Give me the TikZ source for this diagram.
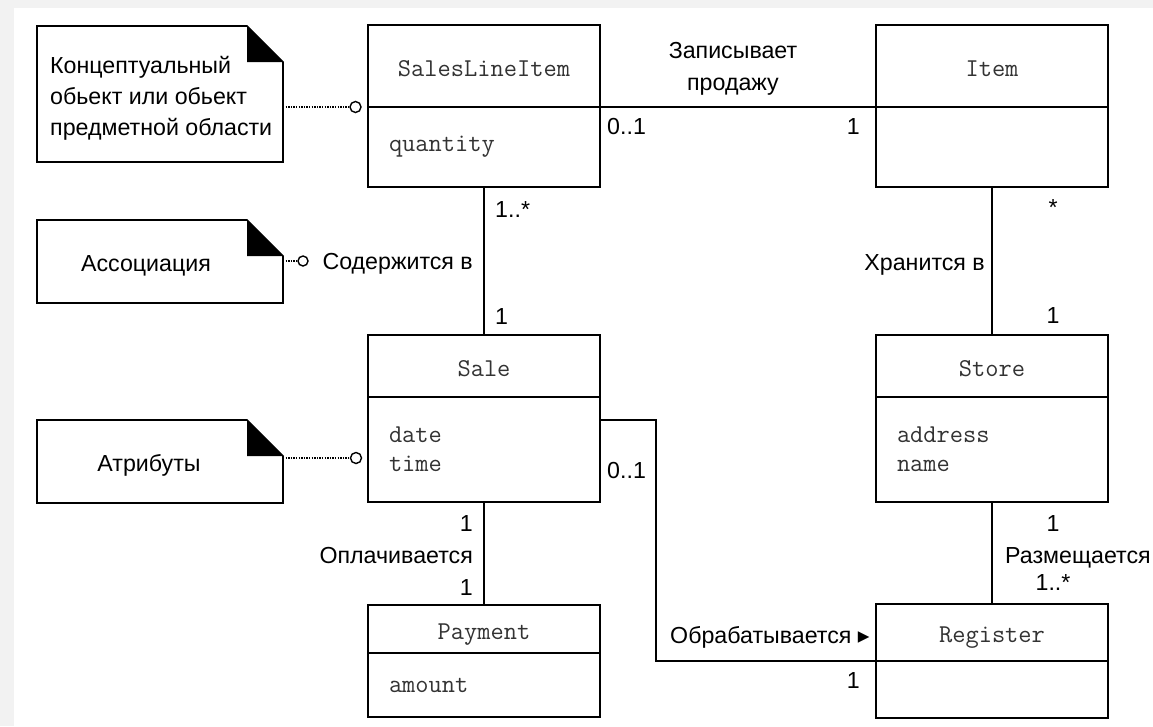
\documentclass[tikz,border=0pt]{standalone}
\usepackage{fontspec}
\setmainfont{Liberation Sans}
\newfontfamily\symbfont{DejaVu Sans}
\usetikzlibrary{positioning}
\tikzset{
	umlhead/.style={draw, line width=1.6pt, minimum width=232pt, inner sep=0pt, outer sep=0pt, font=\fontsize{25.7}{29}\ttfamily, text=black!80, text height=22pt, text depth=2pt},
	umlbody/.style={draw, line width=1.6pt, minimum width=232pt, text width=190pt, inner xsep=21pt, inner ysep=0pt, outer sep=0pt, align=left, font=\fontsize{25.7}{29}\ttfamily, text=black!80},
	note/.style={minimum width=246pt, inner sep=0pt, outer sep=0pt},
	txt/.style={inner sep=0pt, font=\fontsize{23.2}{31}\selectfont, text height=17pt, text depth=0pt},
	txtblock/.style={inner sep=0pt, font=\fontsize{23.2}{31}\selectfont},
	assoc/.style={line width=1.6pt},
	anchorline/.style={line width=1.6pt, dash pattern=on 1.3pt off 1.3pt},
	anchordot/.style={circle, draw, line width=1.4pt, inner sep=0pt, minimum size=11pt, fill=white}
}
\newcommand{\foldnote}[1]{%
	\draw[line width=1.6pt] (#1.north west) -- ([xshift=-36pt]#1.north east) -- ([yshift=-36pt]#1.north east) -- (#1.south east) -- (#1.south west) -- cycle;
	\fill ([xshift=-36pt]#1.north east) -- ([xshift=-36pt,yshift=-36pt]#1.north east) -- ([yshift=-36pt]#1.north east) -- cycle;}
\begin{document}
\begin{tikzpicture}[x=1pt, y=-1pt]
	\useasboundingbox (0,0) rectangle (1153,726);
	\fill[gray!10] (0,0) rectangle (1153,726);
	\fill[white] (14,8) rectangle (1153,726);
	
	\draw (484,66) node[umlhead, minimum height=82pt] (slihead) {SalesLineItem};
	\node[umlbody, minimum height=80pt, below=0pt of slihead] (slibody) {quantity};
	\draw (992,66) node[umlhead, minimum height=82pt] (itemhead) {Item};
	\node[umlbody, minimum height=80pt, below=0pt of itemhead] (itembody) {};
	\draw (484,366) node[umlhead, minimum height=62pt] (salehead) {Sale};
	\node[umlbody, minimum height=105pt, below=0pt of salehead] (salebody) {date\\time};
	\draw (992,366) node[umlhead, minimum height=62pt] (storehead) {Store};
	\node[umlbody, minimum height=105pt, below=0pt of storehead] (storebody) {address\\name};
	\draw (484,629) node[umlhead, minimum height=48pt] (payhead) {Payment};
	\node[umlbody, minimum height=64pt, below=0pt of payhead] (paybody) {amount};
	\draw (992,632.5) node[umlhead, minimum height=57pt] (reghead) {Register};
	\node[umlbody, minimum height=57pt, below=0pt of reghead] (regbody) {};
	
	\draw[assoc] (slihead.south east) -- (itemhead.south west);
	\draw[assoc] (slibody.south) -- (salehead.north);
	\draw[assoc] (itembody.south) -- (storehead.north);
	\draw[assoc] (salebody.south) -- (payhead.north);
	\draw[assoc] (storebody.south) -- (reghead.north);
	\draw[assoc] ([yshift=-23pt]salebody.north east) -- ++(56,0) |- (reghead.south west);
	
	\draw (160,94) node[note, minimum height=136pt] (conceptnote) {};
	\foldnote{conceptnote}
	\draw ([xshift=13pt,yshift=-4.4pt]conceptnote.west) node[txtblock, anchor=west, align=left] (concepttext) {Концептуальный\\обьект или обьект\\предметной области};
	\draw (160,261.5) node[note, minimum height=83pt] (assocnote) {};
	\foldnote{assocnote}
	\draw (146,263) node[txt] (assoctext) {Ассоциация};
	\draw (160,461.5) node[note, minimum height=83pt] (attrnote) {};
	\foldnote{attrnote}
	\draw (149,463) node[txt] (attrtext) {Атрибуты};
	
	\draw (355.5,107) node[anchordot] (conceptdot) {};
	\draw[anchorline] (conceptnote.east |- conceptdot) -- (conceptdot);
	\draw (303,261) node[anchordot, minimum size=10pt] (assocdot) {};
	\draw[anchorline] (assocnote.east |- assocdot) -- (assocdot);
	\draw (356,458) node[anchordot] (attrdot) {};
	\draw[anchorline] (attrnote.east |- attrdot) -- (attrdot);
	
	\draw (733,68.4) node[txtblock, align=center, font=\fontsize{23.2}{32}\selectfont] (recordlbl) {Записывает\\продажу};
	\draw (607,126) node[txt, anchor=west] (recordfrom) {0..1};
	\draw (860,126) node[txt, anchor=east] (recordto) {1};
	\draw (495,209) node[txt, anchor=west] (containfrom) {1..*};
	\draw (473,261) node[txt, anchor=east] (containlbl) {Содержится в};
	\draw (495,316) node[txt, anchor=west] (containto) {1};
	\draw (1053,207) node[txt] (storedfrom) {*};
	\draw (985,262) node[txt, anchor=east] (storedlbl) {Хранится в};
	\draw (1053,315) node[txt] (storedto) {1};
	\draw (473,523) node[txt, anchor=east] (paidfrom) {1};
	\draw (473,555) node[txt, anchor=east] (paidlbl) {Оплачивается};
	\draw (473,587) node[txt, anchor=east] (paidto) {1};
	\draw (607,470) node[txt, anchor=west] (handledfrom) {0..1};
	\draw (670,635) node[txt, anchor=west] (handledlbl) {Обрабатывается {\symbfont ▸}};
	\draw (860,680) node[txt, anchor=east] (handledto) {1};
	\draw (1053,523) node[txt] (placedfrom) {1};
	\draw (1005,555) node[txt, anchor=west] (placedlbl) {Размещается};
	\draw (1053,582) node[txt] (placedto) {1..*};
\end{tikzpicture}
\end{document}
